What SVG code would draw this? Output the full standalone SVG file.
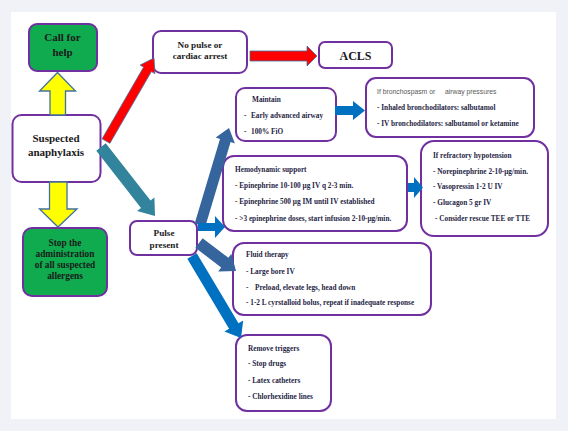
<svg xmlns="http://www.w3.org/2000/svg" width="568" height="431" viewBox="0 0 568 431">
<style>
.box{fill:#ffffff;stroke:#7030a0;stroke-width:2}
.gbox{fill:#10ab4f;stroke:#7030a0;stroke-width:2}
.big{font-family:"Liberation Serif","Times New Roman",serif;font-weight:bold;fill:#1a1a1a;text-anchor:middle}
.sm{font-family:"Liberation Serif","Times New Roman",serif;font-weight:bold;font-size:7.3px;fill:#1f2545}
.sans{font-family:"Liberation Sans",Arial,sans-serif;font-size:6.8px;fill:#595959}
.yel{fill:#ffff00;stroke:#41719c;stroke-width:1.3}
.red{fill:#ff0000;stroke:#41719c;stroke-width:0.8}
.teal{fill:#31849b}
.steel{fill:#35659c}
.blue{fill:#0070c0}
</style>
<rect x="0" y="0" width="568" height="431" fill="#f0f2f7"/>
<rect x="11" y="12" width="545" height="407" fill="#ffffff"/>

<g id="node-call-for-help">
<rect class="gbox" x="29" y="24" width="68" height="47" rx="8"/>
<text class="big" font-size="11" x="62.5" y="41">Call for</text>
<text class="big" font-size="11" x="62.5" y="56">help</text>
</g>
<g id="node-suspected">
<rect class="box" x="12.5" y="115" width="88" height="67" rx="9"/>
<text class="big" font-size="11" x="56" y="141.5">Suspected</text>
<text class="big" font-size="11" x="56" y="155.5">anaphylaxis</text>
</g>
<g id="node-stop">
<rect class="gbox" x="23" y="228" width="84" height="68" rx="9"/>
<text class="big" font-size="9.3" x="65" y="245.5">Stop the</text>
<text class="big" font-size="9.3" x="65" y="256.8">administration</text>
<text class="big" font-size="9.3" x="65" y="268">of all suspected</text>
<text class="big" font-size="9.3" x="65" y="279.3">allergens</text>
</g>
<g id="node-no-pulse">
<rect class="box" x="153" y="31" width="94" height="42" rx="8"/>
<text class="big" font-size="9.2" x="200" y="47.5">No pulse or</text>
<text class="big" font-size="9.2" x="200" y="58.5">cardiac arrest</text>
</g>
<g id="node-acls">
<rect class="box" x="319" y="42" width="73" height="26" rx="6"/>
<text class="big" font-size="12" x="355.5" y="59.5">ACLS</text>
</g>
<g id="node-pulse-present">
<rect class="box" x="130" y="221" width="67" height="34" rx="7"/>
<text class="big" font-size="9.2" x="164" y="236">Pulse</text>
<text class="big" font-size="9.2" x="164" y="248.3">present</text>
</g>
<g id="node-maintain">
<rect class="box" x="236" y="88" width="100" height="53" rx="9"/>
<text class="sm" x="252" y="102">Maintain</text>
<text class="sm" y="118"><tspan x="244">-</tspan><tspan x="251">Early advanced airway</tspan></text>
<text class="sm" y="134"><tspan x="244">-</tspan><tspan x="251">100% FiO</tspan></text>
</g>
<g id="node-bronchospasm">
<rect class="box" x="366" y="78" width="168" height="59" rx="10"/>
<text class="sans" x="377" y="93.5">If bronchospasm or</text>
<text class="sans" x="445" y="93.5">airway pressures</text>
<text class="sm" x="377" y="109.5">- Inhaled bronchodilators: salbutamol</text>
<text class="sm" x="377" y="125.5">- IV bronchodilators: salbutamol or ketamine</text>
</g>
<g id="node-hemodynamic">
<rect class="box" x="223" y="156" width="184" height="75" rx="11"/>
<text class="sm" x="235" y="171.5">Hemodynamic support</text>
<text class="sm" x="235" y="187.5">- Epinephrine 10-100 μg IV q 2-3 min.</text>
<text class="sm" x="235" y="204">- Epinephrine 500 μg IM until IV established</text>
<text class="sm" x="235" y="220.5">- &gt;3 epinephrine doses, start infusion 2-10-μg/min.</text>
</g>
<g id="node-refractory">
<rect class="box" x="421" y="141" width="127" height="95" rx="13"/>
<text class="sm" x="433" y="157.5">If refractory hypotension</text>
<text class="sm" x="433" y="173.5">- Norepinephrine 2-10-μg/min.</text>
<text class="sm" x="433" y="189">- Vasopressin 1-2 U IV</text>
<text class="sm" x="433" y="204.5">- Glucagon 5 gr IV</text>
<text class="sm" x="435" y="220.5">- Consider rescue TEE or TTE</text>
</g>
<g id="node-fluid">
<rect class="box" x="233" y="243" width="198" height="72" rx="11"/>
<text class="sm" x="246" y="256.5">Fluid therapy</text>
<text class="sm" x="246" y="273.5">- Large bore IV</text>
<text class="sm" y="289.5"><tspan x="246">-</tspan><tspan x="255">Preload, elevate legs, head down</tspan></text>
<text class="sm" x="246" y="304.5">- 1-2 L cyrstalloid bolus, repeat if inadequate response</text>
</g>
<g id="node-remove">
<rect class="box" x="236" y="335" width="95" height="76" rx="11"/>
<text class="sm" x="248" y="350.5">Remove triggers</text>
<text class="sm" x="248" y="365.5">- Stop drugs</text>
<text class="sm" x="248" y="382.5">- Latex catheters</text>
<text class="sm" x="248" y="398.5">- Chlorhexidine lines</text>
</g>

<g id="connectors">
<polygon class="yel" points="50,115 50,91 39.5,91 57.5,72.5 75.5,91 65.5,91 65.5,115"/>
<polygon class="yel" points="49.5,182 49.5,209 39.5,209 58,227 77,209 67,209 67,182"/>
<polygon class="red" points="102.1,138.8 143.6,67.1 140.1,65.1 154,58 154.9,73.6 151.4,71.6 109.9,143.3"/>
<polygon class="red" points="250,51 307,51 307,46 317,56 307,66 307,61 250,61"/>
<polygon class="teal" points="96.3,150.7 141,207.9 137.1,211 155,216 154.4,197.4 150.5,200.5 105.7,143.3"/>
<polygon class="steel" points="194.7,223.4 220,138.9 215.7,137.6 229,128 234.9,143.4 230.6,142.1 205.3,226.6"/>
<polygon class="blue" points="198,223 215,223 215,216 225,227 215,238 215,231 198,231"/>
<polygon class="steel" points="202.6,238.2 228.4,257.8 231.4,253.8 236,271 218.2,271.4 221.2,267.4 195.4,247.8"/>
<polygon class="blue" points="196.7,253.2 238.5,323.2 243.2,320.4 241,338 224.4,331.6 229.1,328.8 187.3,258.8"/>
<polygon class="blue" points="335,106 353,106 353,101 365,110.5 353,120 353,115 335,115"/>
<polygon class="blue" points="408,183 414,183 414,177 423,187.5 414,198 414,192 408,192"/>
</g>
</svg>
